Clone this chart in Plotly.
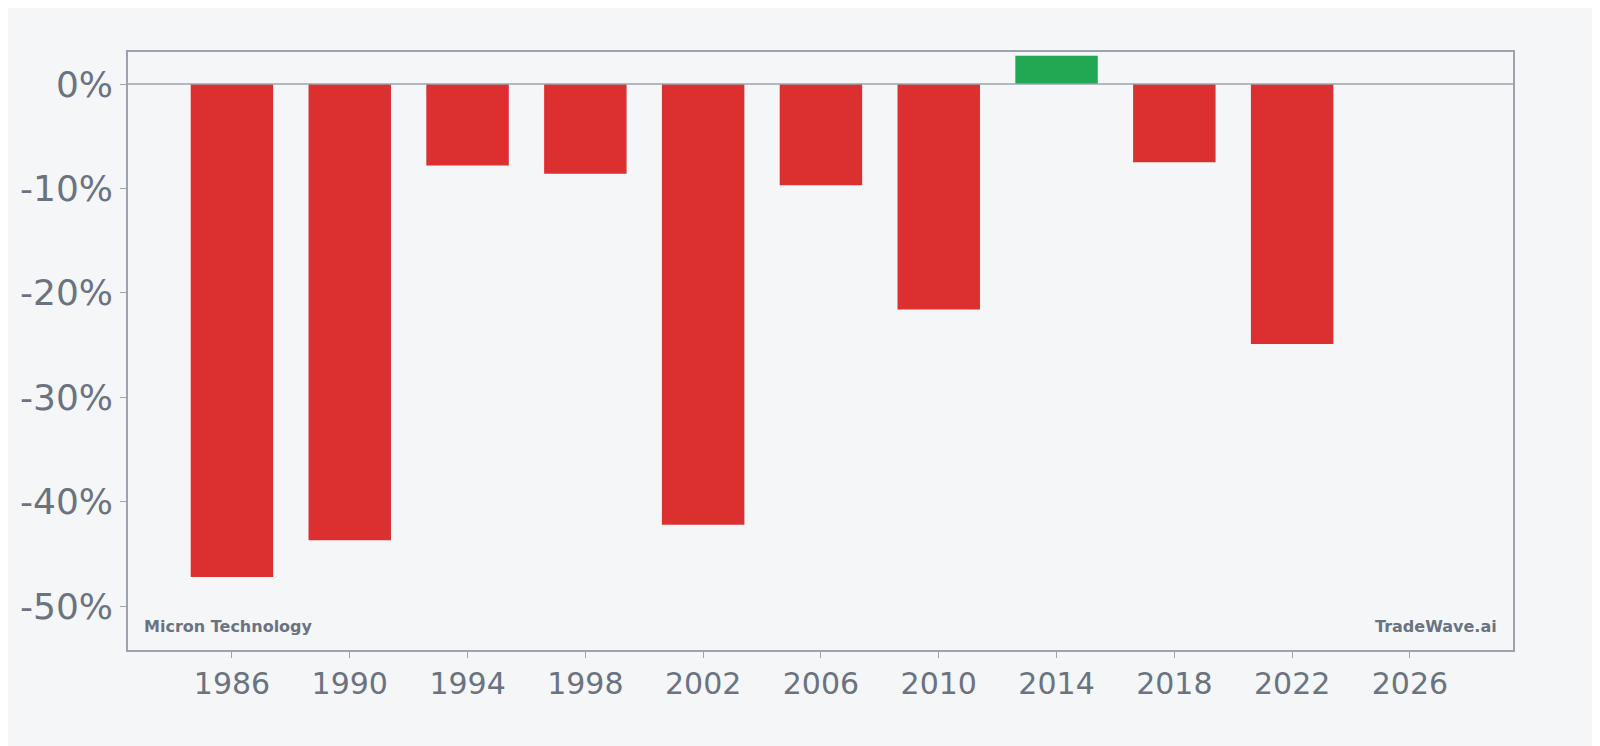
import plotly.graph_objects as go

years = [1986, 1990, 1994, 1998, 2002, 2006, 2010, 2014, 2018, 2022]
returns = [-47.2, -43.7, -7.8, -8.6, -42.2, -9.7, -21.6, 2.7, -7.5, -24.9]
colors = ["#22a853" if r > 0 else "#dc3030" for r in returns]

grey = "#6b7280"
fig = go.Figure(go.Bar(x=years, y=returns, width=2.8, marker_color=colors,
                       marker_line_width=0))

fig.add_hline(y=0, line_color="#9ca3af", line_width=1.5)

fig.update_layout(
    width=1600, height=746,
    paper_bgcolor="#f4f6f8", plot_bgcolor="#f4f6f8",
    margin=dict(l=118, r=95, t=44, b=104),
    showlegend=False,
    font=dict(family="DejaVu Sans", color=grey),
    annotations=[
        dict(text="<b>Micron Technology</b>", x=0.01, y=0.02, xref="paper", yref="paper",
             xanchor="left", yanchor="bottom", showarrow=False, font=dict(size=16, color=grey)),
        dict(text="<b>TradeWave.ai</b>", x=0.99, y=0.02, xref="paper", yref="paper",
             xanchor="right", yanchor="bottom", showarrow=False, font=dict(size=16, color=grey)),
    ],
)
fig.update_xaxes(range=[1982.47, 2029.5], tickvals=list(range(1986, 2027, 4)),
                 tickfont=dict(size=30), showgrid=False, zeroline=False,
                 showline=True, linecolor="#9ca3af", mirror=True, linewidth=1.5,
                 ticks="outside", ticklen=6, tickcolor="#9ca3af")
fig.update_yaxes(range=[-54.2, 3.07], tickvals=[0, -10, -20, -30, -40, -50],
                 ticktext=["0%", "-10%", "-20%", "-30%", "-40%", "-50%"],
                 tickfont=dict(size=36), showgrid=False, zeroline=False,
                 showline=True, linecolor="#9ca3af", mirror=True, linewidth=1.5,
                 ticks="outside", ticklen=6, tickcolor="#9ca3af")

fig.write_html("out.html")
